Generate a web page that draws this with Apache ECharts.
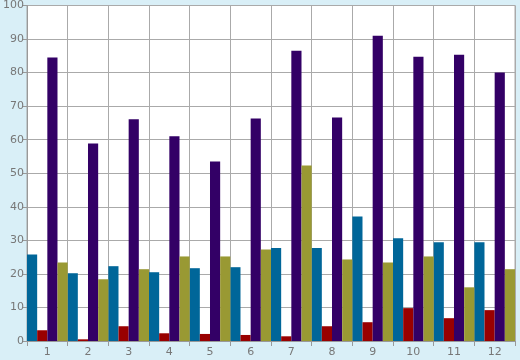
<!DOCTYPE html>
<html><head><meta charset="utf-8">
<script src="https://cdn.jsdelivr.net/npm/echarts@6/dist/echarts.min.js"></script>
<style>html,body{margin:0;padding:0;background:#d9eff7}#c{width:520px;height:360px}</style>
</head><body><div id="c"></div>
<script>
var categories = ['1','2','3','4','5','6','7','8','9','10','11','12'];
var blueValues   = [25.8, 20.2, 22.3, 20.5, 21.7, 22.0, 27.7, 27.7, 37.1, 30.6, 29.4, 29.4];
var redValues    = [3.2, 0.5, 4.4, 2.3, 2.1, 1.8, 1.4, 4.4, 5.6, 9.8, 6.8, 9.2];
var purpleValues = [84.5, 58.9, 66.1, 61.0, 53.5, 66.3, 86.5, 66.6, 91.0, 84.7, 85.3, 80.0];
var oliveValues  = [23.4, 18.4, 21.4, 25.2, 25.2, 27.3, 52.3, 24.3, 23.4, 25.2, 16.0, 21.4];
var yTicks = [0, 100, 10];

var chart = echarts.init(document.getElementById('c'), null, {renderer: 'canvas'});
function s(data, color) {
  return {type: 'bar', data: data, itemStyle: {color: color}, barGap: '0%', barCategoryGap: '0%', animation: false};
}
chart.setOption({
  backgroundColor: '#d9eff7',
  animation: false,
  grid: {left: 26, right: 5, top: 5, bottom: 19, show: true, backgroundColor: '#ffffff', borderColor: '#aaaaaa', borderWidth: 1},
  xAxis: {
    type: 'category', data: categories, boundaryGap: true,
    axisLine: {lineStyle: {color: '#999999'}},
    axisTick: {show: true, length: 5, lineStyle: {color: '#999999'}},
    axisLabel: {color: '#777777', fontFamily: 'DejaVu Sans', fontSize: 11, margin: 6},
    splitLine: {show: true, lineStyle: {color: '#aaaaaa', width: 1}}
  },
  yAxis: {
    type: 'value', min: yTicks[0], max: yTicks[1], interval: yTicks[2],
    axisLine: {show: true, lineStyle: {color: '#999999'}},
    axisTick: {show: true, length: 4, lineStyle: {color: '#999999'}},
    axisLabel: {color: '#777777', fontFamily: 'DejaVu Sans', fontSize: 11, margin: 3},
    splitLine: {show: true, lineStyle: {color: '#aaaaaa', width: 1}}
  },
  series: [
    s(blueValues, '#006699'),
    s(redValues, '#990000'),
    s(purpleValues, '#330066'),
    s(oliveValues, '#999933')
  ]
});
</script></body></html>
